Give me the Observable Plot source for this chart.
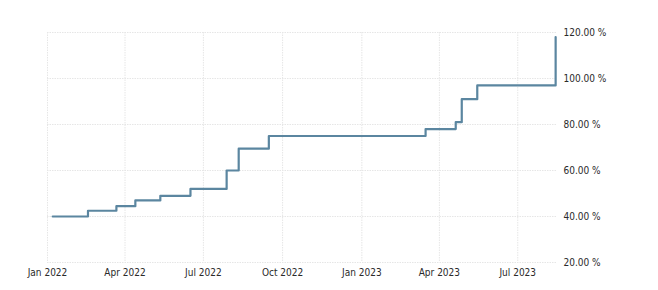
<!DOCTYPE html>
<html>
<head>
<meta charset="utf-8">
<script src="https://cdn.jsdelivr.net/npm/d3@7"></script>
<script src="https://cdn.jsdelivr.net/npm/@observablehq/plot@0.6"></script>
<style>
  html, body { margin: 0; padding: 0; background: #fff; }
  #chart svg { display: block; }
</style>
</head>
<body>
<div id="chart"></div>
<script>
const dates = ["2022-01-07","2022-02-17","2022-03-22","2022-04-13","2022-05-12","2022-06-16","2022-07-28","2022-08-11","2022-09-15","2023-03-16","2023-04-20","2023-04-27","2023-05-15","2023-08-14"];
const rates = [40, 42.5, 44.5, 47, 49, 52, 60, 69.5, 75, 78, 81, 91, 97, 118];
const xTicks = ["2022-01-01","2022-04-01","2022-07-01","2022-10-01","2023-01-01","2023-04-01","2023-07-01"];
const yTicks = [20, 40, 60, 80, 100, 120];

const data = dates.map((d, i) => ({date: new Date(d), rate: rates[i]}));
const xt = xTicks.map(d => new Date(d));

const chart = Plot.plot({
  width: 658,
  height: 290,
  marginLeft: 47,
  marginRight: 102,
  marginTop: 32,
  marginBottom: 28,
  style: {fontFamily: "'DejaVu Sans Condensed', 'DejaVu Sans', sans-serif", fontSize: "10px", color: "#333", background: "#fff"},
  x: {type: "utc", domain: [new Date("2022-01-01"), new Date("2023-08-15")]},
  y: {domain: [20, 120]},
  marks: [
    Plot.gridX(xt, {stroke: "#e6e6e6", strokeOpacity: 1, strokeDasharray: "1.5,1"}),
    Plot.gridY(yTicks, {stroke: "#e6e6e6", strokeOpacity: 1, strokeDasharray: "1.5,1"}),
    Plot.axisX(xt, {tickSize: 0, tickPadding: 6, tickFormat: d3.utcFormat("%b %Y"), label: null, fill: "#2a2a2a"}),
    Plot.axisY(yTicks, {anchor: "right", tickSize: 0, tickPadding: 7, tickFormat: d => d.toFixed(2) + " %", label: null, fill: "#2a2a2a"}),
    Plot.line(data, {x: "date", y: "rate", curve: "step-after", stroke: "#5b86a0", strokeWidth: 2.2})
  ]
});
document.getElementById("chart").append(chart);
</script>
</body>
</html>
